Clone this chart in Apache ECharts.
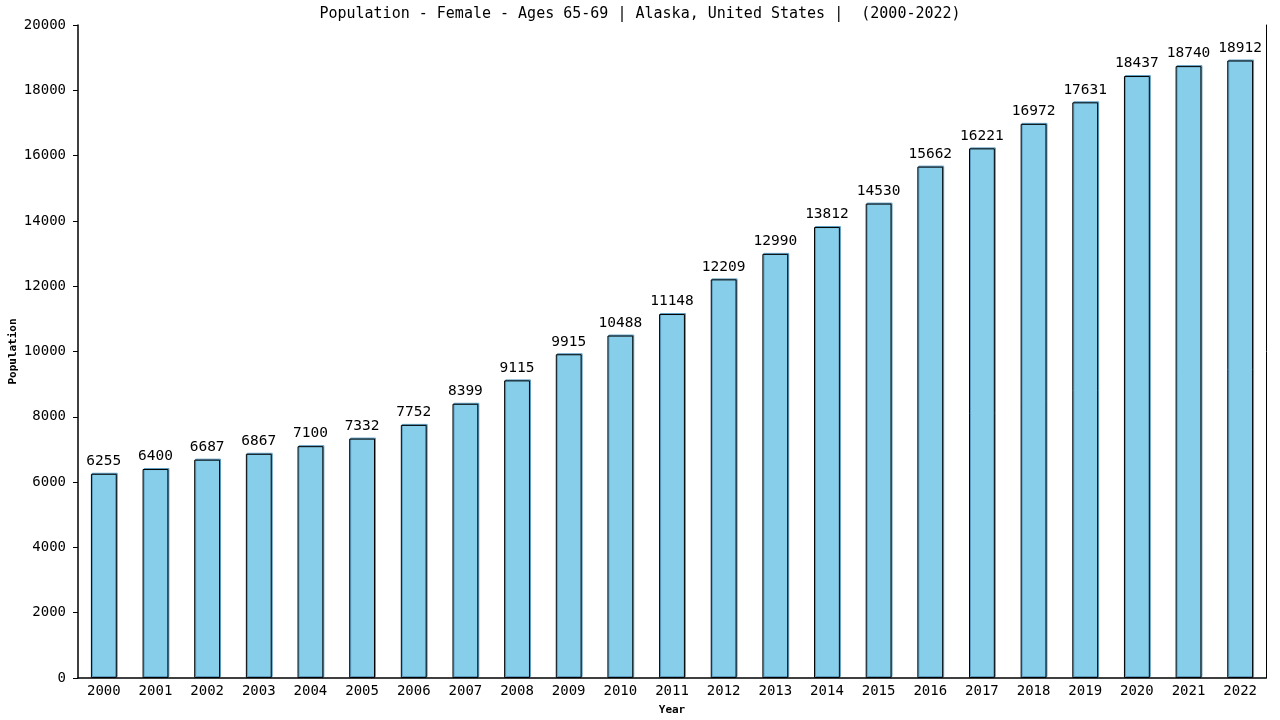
<!DOCTYPE html>
<html><head><meta charset="utf-8">
<script src="https://cdn.jsdelivr.net/npm/echarts@6/dist/echarts.min.js"></script>
<style>html,body{margin:0;padding:0;background:#fff}#c{width:1280px;height:720px}</style>
</head><body><div id="c"></div>
<script>
const years = ['2000','2001','2002','2003','2004','2005','2006','2007','2008','2009','2010','2011','2012','2013','2014','2015','2016','2017','2018','2019','2020','2021','2022'];
const population = [6255,6400,6687,6867,7100,7332,7752,8399,9115,9915,10488,11148,12209,12990,13812,14530,15662,16221,16972,17631,18437,18740,18912];
const yTicks = {min:0, max:20000, interval:2000};
const titleText = 'Population - Female - Ages 65-69 | Alaska, United States |  (2000-2022)';
const font = 'DejaVu Sans Mono';
const chart = echarts.init(document.getElementById('c'));
chart.setOption({
  animation:false,
  backgroundColor:'#fff',
  title:{text:titleText,left:'center',top:2,textStyle:{fontFamily:font,fontSize:15,fontWeight:'normal',color:'#000'}},
  grid:{left:78,right:14,top:25,bottom:42,containLabel:false,outerBoundsMode:'none'},
  xAxis:{type:'category',data:years,name:'Year',nameLocation:'middle',nameGap:27,nameMoveOverlap:false,
    nameTextStyle:{fontFamily:font,fontSize:11,fontWeight:'bold',color:'#000'},
    axisLine:{lineStyle:{color:'#000',width:1.5}},axisTick:{show:false},
    axisLabel:{fontFamily:font,fontSize:14,color:'#000',margin:6,interval:0}},
  yAxis:[{type:'value',min:yTicks.min,max:yTicks.max,interval:yTicks.interval,name:'Population',nameLocation:'middle',nameGap:59,nameMoveOverlap:false,
    nameTextStyle:{fontFamily:font,fontSize:11,fontWeight:'bold',color:'#000'},
    axisLine:{show:true,lineStyle:{color:'#000',width:1.5}},axisTick:{show:true,length:5,lineStyle:{color:'#000'}},
    splitLine:{show:false},axisLabel:{fontFamily:font,fontSize:14,color:'#000',margin:12,formatter:v=>String(v)}},
    {type:'value',position:'right',min:yTicks.min,max:yTicks.max,interval:yTicks.interval,
    axisLine:{show:true,lineStyle:{color:'#000',width:1}},axisTick:{show:false},axisLabel:{show:false},splitLine:{show:false}}],
  series:[{type:'bar',data:population,barWidth:'50%',
    itemStyle:{color:'#87CEEB',borderColor:'#000',borderWidth:1,shadowColor:'#5b9cc0',shadowOffsetX:1,shadowOffsetY:-1,shadowBlur:0},
    label:{show:true,position:'top',distance:5,fontFamily:font,fontSize:14.5,color:'#000'}}]
});
</script></body></html>
